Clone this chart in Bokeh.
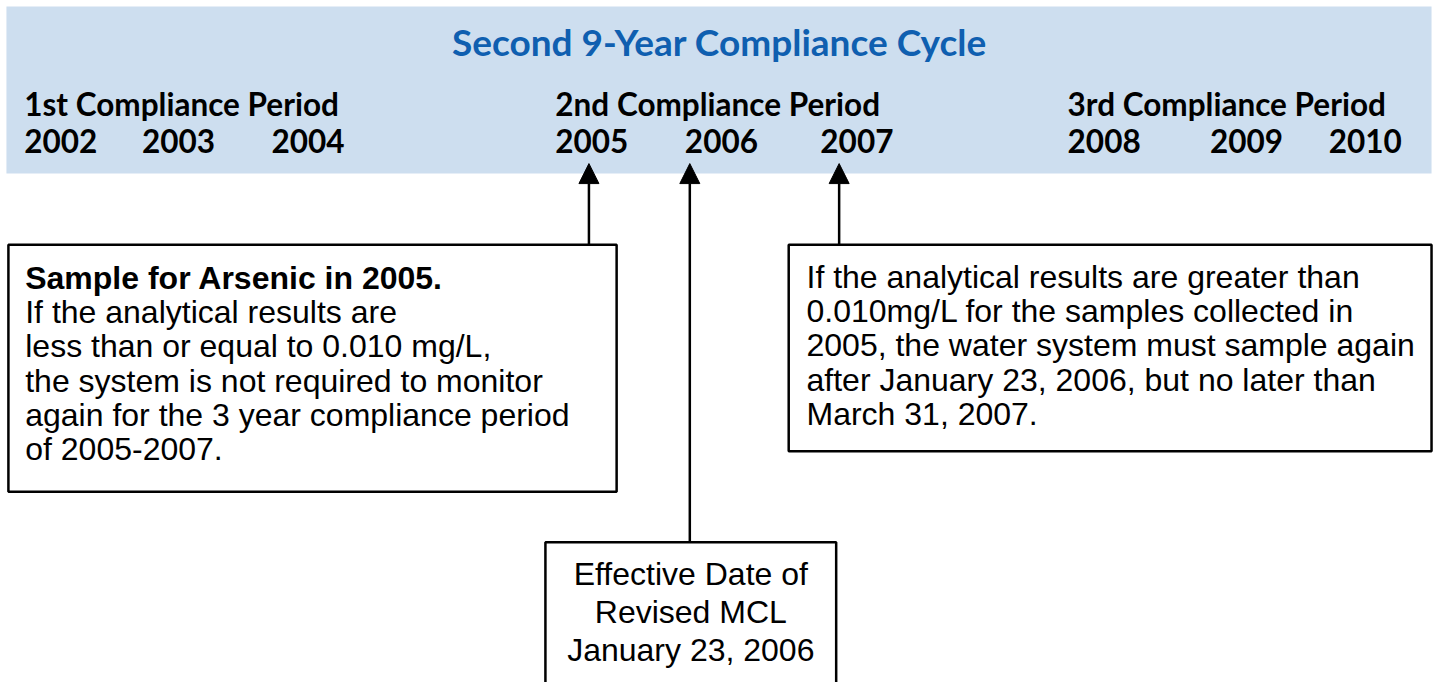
from bokeh.plotting import figure
from bokeh.models import Range1d, ColumnDataSource, Arrow, NormalHead
from bokeh.core.properties import value
from bokeh.embed import file_html
from bokeh.resources import INLINE

# ---- content ----
title = "Second 9-Year Compliance Cycle"
periods = ["1st Compliance Period", "2nd Compliance Period", "3rd Compliance Period"]
years = ["2002", "2003", "2004", "2005", "2006", "2007", "2008", "2009", "2010"]
box1_lines = ["Sample for Arsenic in 2005.",
              "If the analytical results are",
              "less than or equal to 0.010 mg/L,",
              "the system is not required to monitor",
              "again for the 3 year compliance period",
              "of 2005-2007."]
box2_lines = ["If the analytical results are greater than",
              "0.010mg/L for the samples collected in",
              "2005, the water system must sample again",
              "after January 23, 2006, but no later than",
              "March 31, 2007."]
box3_lines = ["Effective Date of", "Revised MCL", "January 23, 2006"]

# ---- layout (diagram coordinates) ----
period_x = [24, 561, 1079]
year_x = [24, 143, 274, 561, 692, 829, 1079, 1223, 1343]
band = dict(left=6, right=1447, top=6, bottom=175)
boxes = dict(left=[8, 797, 551], right=[623, 1447, 845], top=[247, 247, 548], bottom=[497, 456, 700])
arrows = dict(x=[595, 697, 848], y0=[247, 548, 247], y1=[165, 165, 165])

BAND = "#CDDEEF"
TITLE_C = "#0F5FB0"
HEAD_FONT = "Lato"
BODY_FONT = "Liberation Sans"

p = figure(width=1434, height=682, x_range=Range1d(0, 1450), y_range=Range1d(690, 0),
           output_backend="svg", toolbar_location=None, min_border=0,
           outline_line_color=None, background_fill_color="white")
p.axis.visible = False
p.grid.visible = False

p.quad(left=[band["left"]], right=[band["right"]], top=[band["top"]], bottom=[band["bottom"]],
       fill_color=BAND, line_color=None)

p.text(x=[727], y=[41], text=[title], text_font=value(HEAD_FONT), text_font_style="bold",
       text_font_size="37px", text_color=TITLE_C, text_align="center", text_baseline="middle")

p.text(x=period_x, y=[105] * 3, text=periods, text_font=value(HEAD_FONT), text_font_style="bold",
       text_font_size="31.5px", text_color="black", text_align="left", text_baseline="middle")
p.text(x=year_x, y=[142] * 9, text=years, text_font=value(HEAD_FONT), text_font_style="bold",
       text_font_size="31.5px", text_color="black", text_align="left", text_baseline="middle")

src = ColumnDataSource(dict(x0=arrows["x"], y0=arrows["y0"], x1=arrows["x"], y1=arrows["y1"]))
p.add_layout(Arrow(end=NormalHead(size=20, fill_color="black", line_color="black", line_width=1),
                   x_start="x0", y_start="y0", x_end="x1", y_end="y1", source=src,
                   line_color="black", line_width=2.5))

p.quad(left=boxes["left"], right=boxes["right"], top=boxes["top"], bottom=boxes["bottom"],
       fill_color="white", line_color="black", line_width=2.5)

y1 = [281 + 34.5 * i for i in range(len(box1_lines))]
p.text(x=[25] * len(box1_lines), y=y1, text=box1_lines, text_font=value(BODY_FONT),
       text_font_size="32px", text_color="black", text_baseline="middle",
       text_font_style=["bold"] + ["normal"] * (len(box1_lines) - 1))

y2 = [280 + 34.5 * i for i in range(len(box2_lines))]
p.text(x=[815] * len(box2_lines), y=y2, text=box2_lines, text_font=value(BODY_FONT),
       text_font_size="32px", text_color="black", text_baseline="middle")

y3 = [580 + 38.5 * i for i in range(len(box3_lines))]
p.text(x=[698] * len(box3_lines), y=y3, text=box3_lines, text_font=value(BODY_FONT),
       text_font_size="32px", text_color="black", text_baseline="middle", text_align="center")

open("out.html", "w").write(file_html(p, INLINE))
